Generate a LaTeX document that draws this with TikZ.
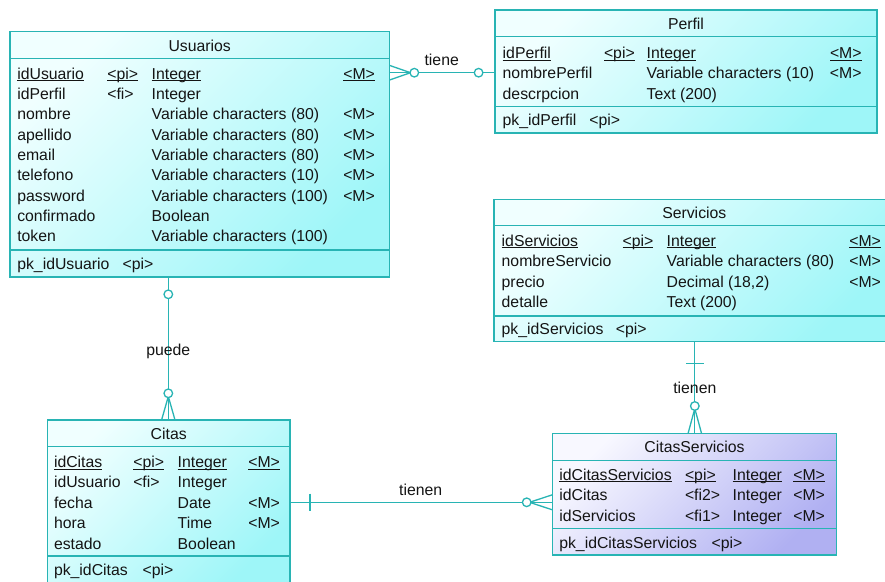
\documentclass[tikz,border=0pt]{standalone}
\usepackage{fontspec}
\setmainfont{Liberation Sans}
\usetikzlibrary{calc}

\definecolor{edge}{RGB}{40,180,180}
\definecolor{ink}{RGB}{20,20,20}
\definecolor{cyLo}{RGB}{240,255,255}
\definecolor{cyHi}{RGB}{158,246,248}
\definecolor{lvLo}{RGB}{248,248,255}
\definecolor{lvHi}{RGB}{176,176,242}

% column widths of the current table
\newlength\cwa \newlength\cwb \newlength\cwc
\newcommand\setcols[3]{\setlength\cwa{#1}\setlength\cwb{#2}\setlength\cwc{#3}}
% one attribute row: name, code, type, mandatory flag
\newcommand\trow[4]{\makebox[\cwa][l]{#1}\makebox[\cwb][l]{#2}\makebox[\cwc][l]{#3}#4}
% underlined key text
\newcommand\ulx[1]{\setbox0\hbox{#1}\rlap{\rule[-2.3pt]{\wd0}{0.9pt}}\box0}
% primary key line
\newcommand\pkrow[3]{\makebox[#1][l]{#2}#3}

\begin{document}
\begin{tikzpicture}[x=1pt,y=-1pt,
  every node/.style={inner sep=0pt, outer sep=0pt, text=ink,
    font=\fontsize{15.8pt}{19pt}\selectfont},
  tbl/.style={draw=edge, line width=1.3pt, rectangle, anchor=north west,
    top color=cyLo, bottom color=cyHi, shading angle=45},
  tblv/.style={tbl, top color=lvLo, bottom color=lvHi, shading angle=45},
  sep/.style={draw=edge, line width=1.3pt},
  title/.style={anchor=base},
  fld/.style={anchor=base west},
  rel/.style={draw=edge, line width=1.3pt},
  knot/.style={draw=edge, line width=1.3pt, fill=white}
]
\fill[white] (0,0) rectangle (885,581);
\clip (0,0) rectangle (885,581);

% ---------------- Usuarios ----------------
\node[tbl, minimum width=379.3pt, minimum height=245.3pt] (usu) at (10,31.7) {};
\draw[sep] (usu.west |- 0,58.3) -- (usu.east |- 0,58.3);
\draw[sep] (usu.west |- 0,250) -- (usu.east |- 0,250);
\node[title] (usuT) at (199.7,51.7) {Usuarios};
\setcols{90pt}{44.4pt}{191.6pt}
\node[fld] (usu1) at (17.3,79)     {\trow{\ulx{idUsuario}}{\ulx{<pi>}}{\ulx{Integer}}{\ulx{<M>}}};
\node[fld] (usu2) at (17.3,99.35)  {\trow{idPerfil}{<fi>}{Integer}{}};
\node[fld] (usu3) at (17.3,119.7)  {\trow{nombre}{}{Variable characters (80)}{<M>}};
\node[fld] (usu4) at (17.3,140.05) {\trow{apellido}{}{Variable characters (80)}{<M>}};
\node[fld] (usu5) at (17.3,160.4)  {\trow{email}{}{Variable characters (80)}{<M>}};
\node[fld] (usu6) at (17.3,180.75) {\trow{telefono}{}{Variable characters (10)}{<M>}};
\node[fld] (usu7) at (17.3,201.1)  {\trow{password}{}{Variable characters (100)}{<M>}};
\node[fld] (usu8) at (17.3,221.45) {\trow{confirmado}{}{Boolean}{}};
\node[fld] (usu9) at (17.3,241.8)  {\trow{token}{}{Variable characters (100)}{}};
\node[fld] (usuK) at (17.3,269.3)  {\pkrow{105.4pt}{pk\_idUsuario}{<pi>}};

% ---------------- Perfil ----------------
\node[tbl, minimum width=382pt, minimum height=123pt] (per) at (495,10) {};
\draw[sep] (per.west |- 0,36.5) -- (per.east |- 0,36.5);
\draw[sep] (per.west |- 0,106.3) -- (per.east |- 0,106.3);
\node[title] (perT) at (686,29.3) {Perfil};
\setcols{101.3pt}{42.7pt}{183.3pt}
\node[fld] (per1) at (502.7,58.3) {\trow{\ulx{idPerfil}}{\ulx{<pi>}}{\ulx{Integer}}{\ulx{<M>}}};
\node[fld] (per2) at (502.7,78.8) {\trow{nombrePerfil}{}{Variable characters (10)}{<M>}};
\node[fld] (per3) at (502.7,99.3) {\trow{descrpcion}{}{Text (200)}{}};
\node[fld] (perK) at (502.7,125.7) {\pkrow{86.6pt}{pk\_idPerfil}{<pi>}};

% ---------------- Servicios ----------------
\node[tbl, minimum width=400pt, minimum height=142.4pt] (ser) at (494,199.3) {};
\draw[sep] (ser.west |- 0,225.3) -- (ser.east |- 0,225.3);
\draw[sep] (ser.west |- 0,316) -- (ser.east |- 0,316);
\node[title] (serT) at (694.3,218.3) {Servicios};
\setcols{121pt}{44pt}{182.6pt}
\node[fld] (ser1) at (501.7,246)   {\trow{\ulx{idServicios}}{\ulx{<pi>}}{\ulx{Integer}}{\ulx{<M>}}};
\node[fld] (ser2) at (501.7,266.5) {\trow{nombreServicio}{}{Variable characters (80)}{<M>}};
\node[fld] (ser3) at (501.7,287)   {\trow{precio}{}{Decimal (18,2)}{<M>}};
\node[fld] (ser4) at (501.7,307.4) {\trow{detalle}{}{Text (200)}{}};
\node[fld] (serK) at (501.7,334)   {\pkrow{114.3pt}{pk\_idServicios}{<pi>}};

% ---------------- Citas ----------------
\node[tbl, minimum width=242.7pt, minimum height=164pt] (cit) at (47.3,420) {};
\draw[sep] (cit.west |- 0,446.7) -- (cit.east |- 0,446.7);
\draw[sep] (cit.west |- 0,556) -- (cit.east |- 0,556);
\node[title] (citT) at (168.7,439.3) {Citas};
\setcols{79.3pt}{44.4pt}{70.6pt}
\node[fld] (cit1) at (54,467.3) {\trow{\ulx{idCitas}}{\ulx{<pi>}}{\ulx{Integer}}{\ulx{<M>}}};
\node[fld] (cit2) at (54,487.7) {\trow{idUsuario}{<fi>}{Integer}{}};
\node[fld] (cit3) at (54,508.1) {\trow{fecha}{}{Date}{<M>}};
\node[fld] (cit4) at (54,528.5) {\trow{hora}{}{Time}{<M>}};
\node[fld] (cit5) at (54,549)   {\trow{estado}{}{Boolean}{}};
\node[fld] (citK) at (54,575.7) {\pkrow{88.7pt}{pk\_idCitas}{<pi>}};

% ---------------- CitasServicios ----------------
\node[tblv, minimum width=284.4pt, minimum height=121.7pt] (cs) at (552.3,433.3) {};
\draw[sep] (cs.west |- 0,460.7) -- (cs.east |- 0,460.7);
\draw[sep] (cs.west |- 0,528.3) -- (cs.east |- 0,528.3);
\node[title] (csT) at (694.5,452.3) {CitasServicios};
\setcols{125.7pt}{47.7pt}{60.6pt}
\node[fld] (cs1) at (559.3,480)   {\trow{\ulx{idCitasServicios}}{\ulx{<pi>}}{\ulx{Integer}}{\ulx{<M>}}};
\node[fld] (cs2) at (559.3,500.5) {\trow{idCitas}{<fi2>}{Integer}{<M>}};
\node[fld] (cs3) at (559.3,521)   {\trow{idServicios}{<fi1>}{Integer}{<M>}};
\node[fld] (csK) at (559.3,548.3) {\pkrow{152.4pt}{pk\_idCitasServicios}{<pi>}};

% ---------------- relationships ----------------
% Usuarios >o---o Perfil : tiene
\draw[rel] (usu.east |- 0,72.7) -- (per.west |- 0,72.7);
\draw[rel] (usu.east |- 0,65.3) -- (410.5,72.7) -- (usu.east |- 0,80.1);
\draw[knot] (414.3,72.7) circle (4.3pt);
\draw[knot] (478.6,72.7) circle (4.3pt);
\node[title] (lbl1) at (441.7,65) {tiene};

% Usuarios o---o< Citas : puede
\draw[rel] (usu.south -| 168.3,0) -- (cit.north -| 168.3,0);
\draw[rel] (cit.north -| 161.6,0) -- (168.3,396.5) -- (cit.north -| 175,0);
\draw[knot] (168.3,294.3) circle (4.3pt);
\draw[knot] (168.3,393.3) circle (4.3pt);
\node[title] (lbl2) at (168.3,355) {puede};

% Servicios |---o< CitasServicios : tienen
\draw[rel] (ser.south -| 694.8,0) -- (cs.north -| 694.8,0);
\draw[rel] (686,363.3) -- (704,363.3);
\draw[rel] (cs.north -| 688.1,0) -- (694.8,408.5) -- (cs.north -| 701.5,0);
\draw[knot] (694.8,406) circle (4.3pt);
\node[title] (lbl3) at (694.8,393) {tienen};

% Citas |---o< CitasServicios : tienen
\draw[rel] (cit.east |- 0,502.3) -- (cs.west |- 0,502.3);
\draw[rel] (310,493.5) -- (310,511);
\draw[rel] (cs.west |- 0,494.8) -- (529.5,502.3) -- (cs.west |- 0,509.8);
\draw[knot] (526.7,502.3) circle (4.3pt);
\node[title] (lbl4) at (420.7,495) {tienen};
\end{tikzpicture}
\end{document}
